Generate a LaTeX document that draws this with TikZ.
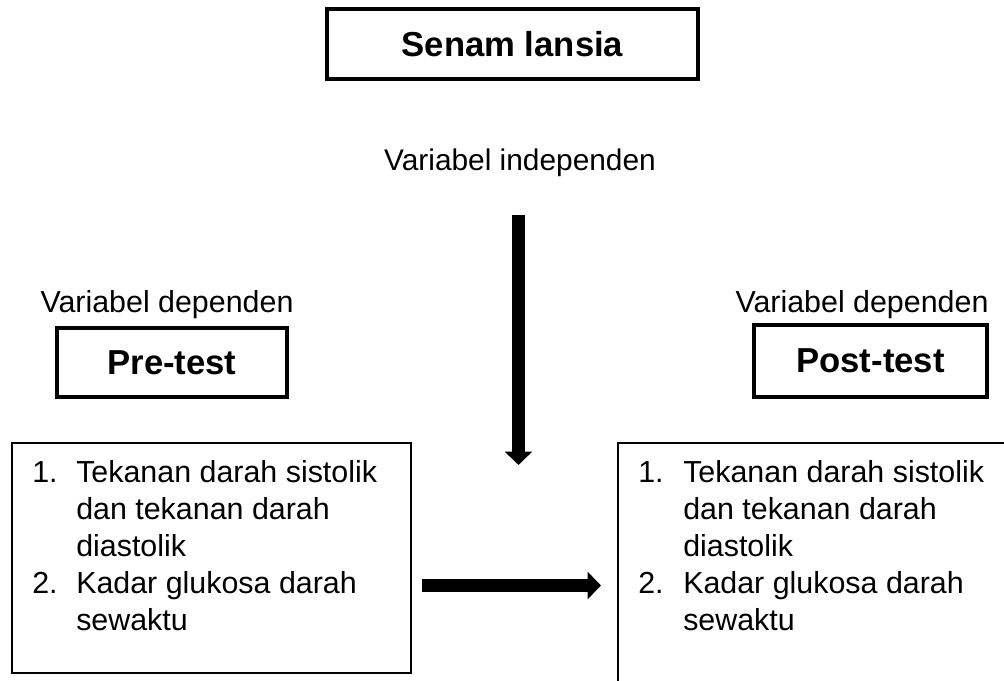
\documentclass[tikz,border=0pt]{standalone}
\usepackage{fontspec}
\setmainfont{Liberation Sans}
\usetikzlibrary{arrows.meta}

\begin{document}
\begin{tikzpicture}[x=0.75pt, y=-0.75pt,
  headbox/.style={draw, line width=3pt, inner sep=0pt,
    font=\fontsize{26}{30}\selectfont\bfseries},
  listbox/.style={draw, line width=0.8pt},
  varlabel/.style={inner sep=0pt, font=\fontsize{22.8}{26}\selectfont},
  listtext/.style={inner sep=0pt, anchor=base west,
    font=\fontsize{22.8}{27.75}\selectfont},
  fatarrow/.style={line width=9.75pt,
    -{Triangle[width=20pt, length=10pt]}}]

  \clip (0,0) rectangle (1004,681);

  % Treatment on top

  \node [headbox, minimum width=278pt, minimum height=52pt] (senam)
    at (512.5,44) {Senam lansia};
  \node [varlabel, font=\fontsize{22.4}{26}\selectfont] (indep)
    at (520,163) {Variabel independen};
  \coordinate (downtop) at (518.5,215);
  \coordinate (downend) at (518.5,465);

  % Measurement before

  \node [varlabel] (deppre) at (167,305) {Variabel dependen};
  \node [headbox, minimum width=172pt, minimum height=52pt] (pre)
    at (172,362.5) {Pre-test};
  \draw [listbox] (12,443) rectangle (411,673);
  \node [listtext] (prelist) at (32,482.7)
    {\begin{tabular}[t]{@{}p{33pt}@{}l@{}}
      1. & Tekanan darah sistolik\\
         & dan tekanan darah\\
         & diastolik\\
      2. & Kadar glukosa darah\\
         & sewaktu
     \end{tabular}};

  % Measurement after

  \node [varlabel] (deppost) at (862,305) {Variabel dependen};
  \node [headbox, minimum width=175pt, minimum height=54pt] (post)
    at (870.5,361) {Post-test};
  \draw [listbox] (618,443) rectangle (1030,700);
  \node [listtext] (postlist) at (638,482.7)
    {\begin{tabular}[t]{@{}p{33.75pt}@{}l@{}}
      1. & Tekanan darah sistolik\\
         & dan tekanan darah\\
         & diastolik\\
      2. & Kadar glukosa darah\\
         & sewaktu
     \end{tabular}};

  % Arrows

  \coordinate (acrossl) at (422,585.5);
  \coordinate (acrossr) at (601,585.5);
  \draw [fatarrow] (downtop) -- (downend);
  \draw [fatarrow] (acrossl) -- (acrossr);
\end{tikzpicture}
\end{document}
